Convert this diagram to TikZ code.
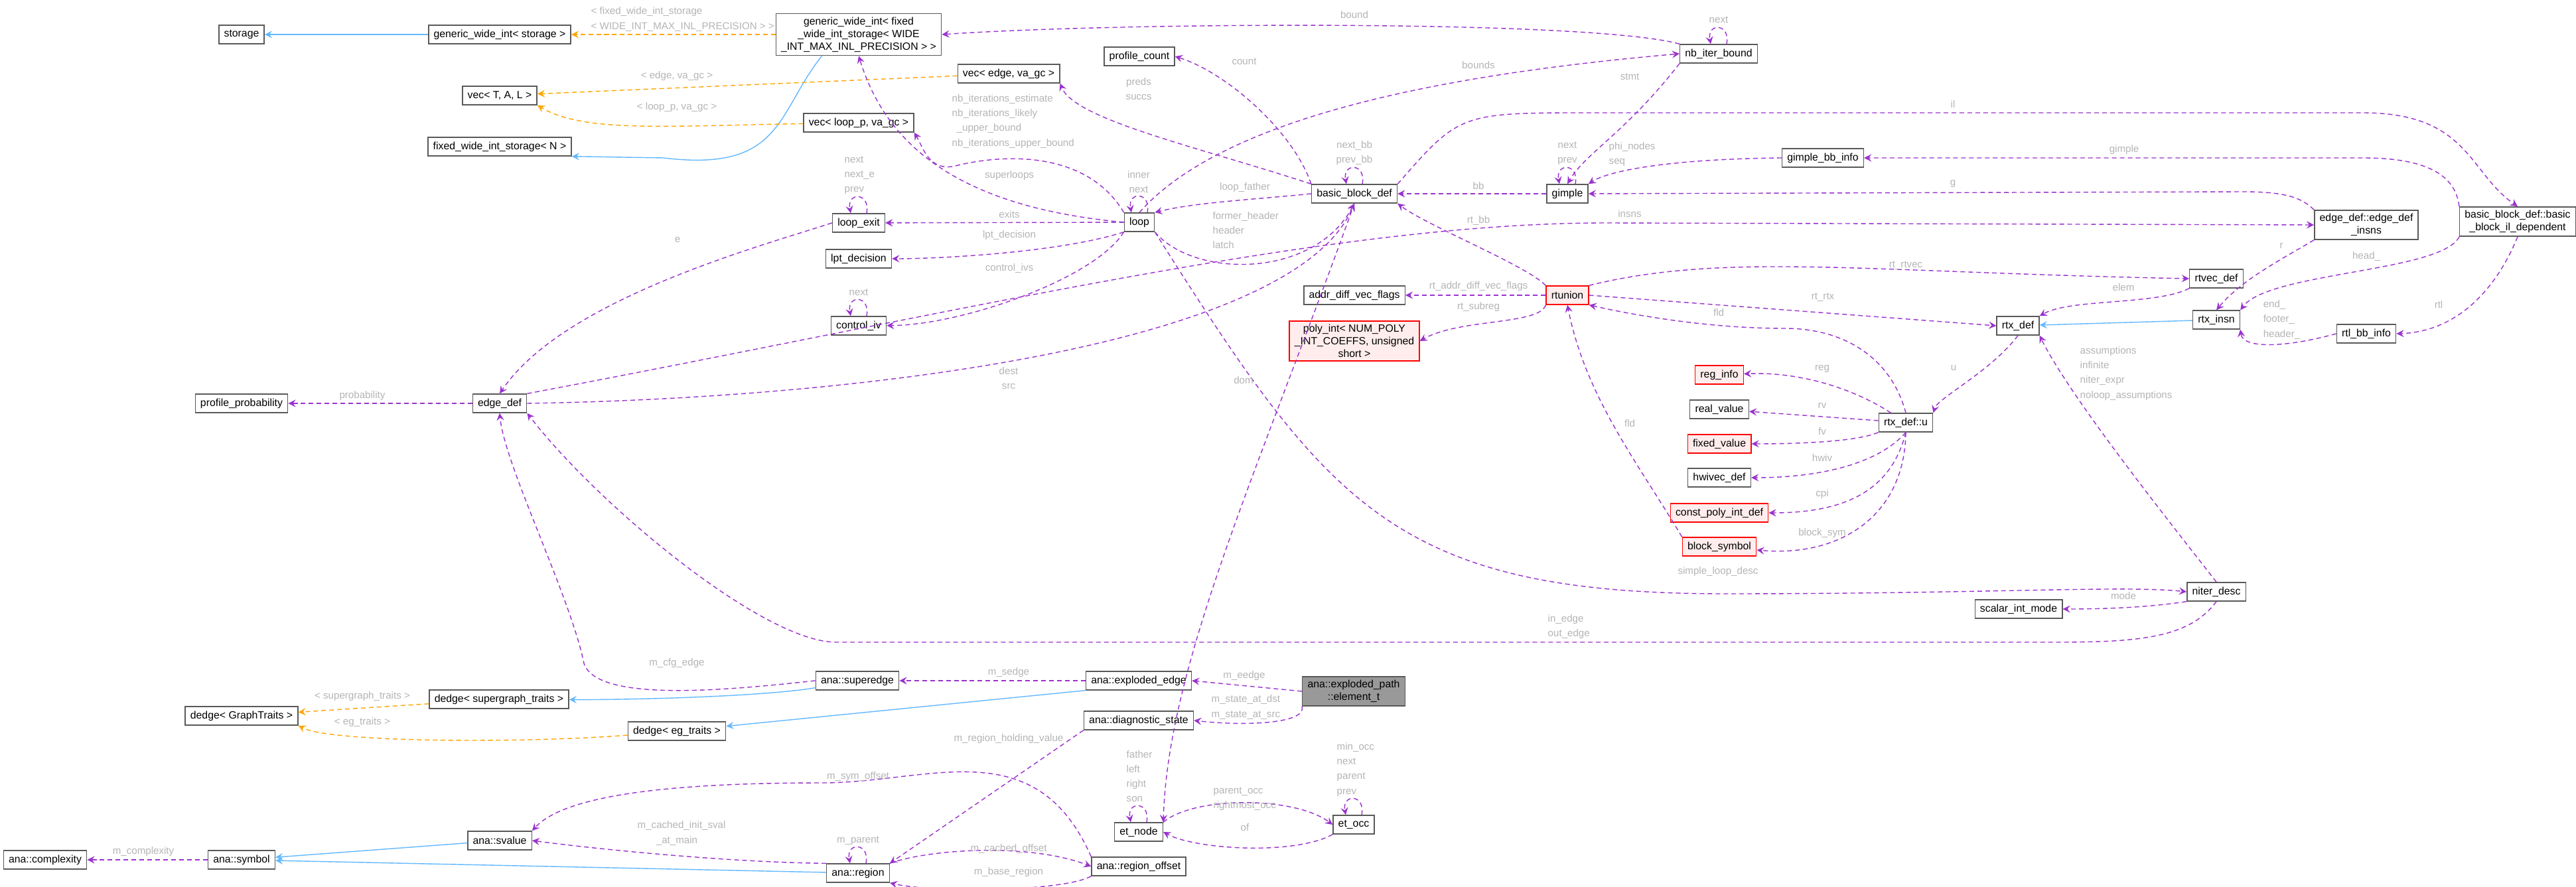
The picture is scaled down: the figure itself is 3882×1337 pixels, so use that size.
\documentclass[tikz,border=0pt]{standalone}
\usepackage{fontspec}
\setmainfont{Liberation Sans}
\usetikzlibrary{arrows}
\definecolor{memcol}{HTML}{9A32CD}
\definecolor{inhcol}{HTML}{63B8FF}
\definecolor{tplcol}{HTML}{FFA500}
\definecolor{lblcol}{HTML}{B4B4B4}
\newcommand{\nodefont}{\fontsize{4.5}{5.4}\selectfont}
\newcommand{\lblfont}{\fontsize{4.3}{6.3}\selectfont}
\tikzstyle{cls} = [draw=gray!70!black, fill=white, font=\nodefont, inner xsep=2.2pt, inner ysep=1.5pt, minimum height=0.28cm, align=center]
\tikzstyle{hot} = [cls, draw=red, fill=red!7]
\tikzstyle{mem} = [->, >=stealth, draw=memcol, dash pattern=on 2pt off 1.4pt, line width=0.4pt]
\tikzstyle{inh} = [->, >=stealth, draw=inhcol, line width=0.4pt]
\tikzstyle{tpl} = [->, >=stealth, draw=tplcol, dash pattern=on 2pt off 1.4pt, line width=0.4pt]
\tikzstyle{lbl} = [font=\lblfont, text=lblcol, align=center, inner sep=0pt]
\tikzstyle{lbll} = [lbl, align=left, anchor=west]
\newcommand{\selfloop}[1]{\draw[mem] (#1.north) ++(12,0) .. controls +(6,-32) and +(-6,-32) .. ++(-24,0);}

\begin{document}
\begin{tikzpicture}[x=0.01cm, y=-0.01cm]

  \useasboundingbox (0,0) rectangle (3882,1337);

  % templates
  \node[cls] (storage) at (364,52) {storage};
  \node[cls] (gwis) at (753,52) {generic\_wide\_int< storage >};
  \node[cls] (gwif) at (1294,52) {generic\_wide\_int< fixed\\\_wide\_int\_storage< WIDE\\\_INT\_MAX\_INL\_PRECISION > >};
  \node[cls] (vectal) at (753,144) {vec< T, A, L >};
  \node[cls] (fwis) at (753,221) {fixed\_wide\_int\_storage< N >};
  \node[cls] (vecedge) at (1520,111) {vec< edge, va\_gc >};
  \node[cls] (veclp) at (1294,185) {vec< loop\_p, va\_gc >};
  \node[cls] (pcount) at (1717,85) {profile\_count};
  \node[cls] (nbib) at (2590,81) {nb\_iter\_bound};

  % loops and blocks
  \node[cls] (loopexit) at (1294,336) {loop\_exit};
  \node[cls] (lptdec) at (1294,390) {lpt\_decision};
  \node[cls] (ctrliv) at (1294,491) {control\_iv};
  \node[cls] (loop) at (1717,335) {loop};
  \node[cls] (bbd) at (2041,292) {basic\_block\_def};
  \node[cls] (gimple) at (2362,292) {gimple};
  \node[cls] (gbbinfo) at (2747,238) {gimple\_bb\_info};
  \node[cls] (edgeins) at (3566,339) {edge\_def::edge\_def\\\_insns};
  \node[cls] (ildep) at (3794,334) {basic\_block\_def::basic\\\_block\_il\_dependent};
  \node[cls] (pprob) at (364,608) {profile\_probability};
  \node[cls] (edgedef) at (753,608) {edge\_def};

  % rtl
  \node[cls] (addrdiff) at (2041,445) {addr\_diff\_vec\_flags};
  \node[hot] (rtunion) at (2362,445) {rtunion};
  \node[hot] (polyint) at (2041,514) {poly\_int< NUM\_POLY\\\_INT\_COEFFS, unsigned\\short >};
  \node[cls] (rtvec) at (3340,420) {rtvec\_def};
  \node[cls] (rtxdef) at (3041,491) {rtx\_def};
  \node[cls] (rtxinsn) at (3340,482) {rtx\_insn};
  \node[cls] (rtlbb) at (3566,503) {rtl\_bb\_info};
  \node[cls] (rtxu) at (2872,637) {rtx\_def::u};
  \node[hot] (reginfo) at (2591,565) {reg\_info};
  \node[cls] (realval) at (2591,617) {real\_value};
  \node[hot] (fixval) at (2591,669) {fixed\_value};
  \node[cls] (hwivec) at (2591,720) {hwivec\_def};
  \node[hot] (cpoly) at (2591,773) {const\_poly\_int\_def};
  \node[hot] (blksym) at (2591,824) {block\_symbol};
  \node[cls] (niter) at (3340,892) {niter\_desc};
  \node[cls] (scalmode) at (3042,918) {scalar\_int\_mode};

  % analyzer
  \node[cls, fill=gray!80] (elem) at (2040,1042) {ana::exploded\_path\\::element\_t};
  \node[cls] (eedge) at (1716,1026) {ana::exploded\_edge};
  \node[cls] (sedge) at (1292,1026) {ana::superedge};
  \node[cls] (dsg) at (752,1054) {dedge< supergraph\_traits >};
  \node[cls] (dgt) at (364,1079) {dedge< GraphTraits >};
  \node[cls] (deg) at (1020,1102) {dedge< eg\_traits >};
  \node[cls] (dstate) at (1716,1086) {ana::diagnostic\_state};
  \node[cls] (etnode) at (1716,1254) {et\_node};
  \node[cls] (etocc) at (2040,1243) {et\_occ};
  \node[cls] (svalue) at (753,1267) {ana::svalue};
  \node[cls] (cplx) at (68,1296) {ana::complexity};
  \node[cls] (symbol) at (364,1296) {ana::symbol};
  \node[cls] (region) at (1293,1316) {ana::region};
  \node[cls] (roffs) at (1716,1306) {ana::region\_offset};

  % inheritance and templates
  \draw[inh] (gwis) -- (storage);
  \draw[tpl] (gwif) -- (gwis);
  \draw[inh] (gwif.south west) ++(70,0) .. controls (1170,170) and (1180,260) .. (1000,238) -- (fwis.south east);
  \draw[tpl] (vecedge) -- (vectal);
  \draw[tpl] (veclp) .. controls (1000,190) and (880,200) .. (vectal.south east);
  \draw[inh] (rtxinsn) -- (rtxdef);
  \draw[inh] (sedge) .. controls (1150,1050) and (950,1055) .. (dsg);
  \draw[inh] (eedge.south west) -- (deg);
  \draw[tpl] (dsg) -- (dgt);
  \draw[tpl] (deg) .. controls (800,1120) and (500,1120) .. (dgt.south east);
  \draw[inh] (svalue) -- (symbol);
  \draw[inh] (region) -- (symbol);
  \node[lbll] (lgwif) at (890,29) {< fixed\_wide\_int\_storage\\< WIDE\_INT\_MAX\_INL\_PRECISION > >};
  \node[lbl] (lvece) at (1020,115) {< edge, va\_gc >};
  \node[lbl] (lveclp) at (1020,162) {< loop\_p, va\_gc >};
  \node[lbl] (ldsg) at (546,1050) {< supergraph\_traits >};
  \node[lbl] (ldeg) at (546,1089) {< eg\_traits >};

  % members
  \draw[mem] (nbib.north west) .. controls (2400,30) and (1700,33) .. (gwif.east);
  \selfloop{nbib}
  \draw[mem] (loop.north) .. controls (1850,170) and (2200,110) .. (nbib.west);
  \draw[mem] (nbib.south west) .. controls (2450,200) and (2390,230) .. (gimple.north);
  \draw[mem] (bbd.north west) .. controls (1950,200) and (1850,110) .. (pcount.east);
  \draw[mem] (bbd.north west) .. controls (1800,220) and (1620,180) .. (vecedge.south east);
  \draw[mem] (loop.west) .. controls (1420,310) and (1330,200) .. (gwif.south);
  \draw[mem] (loop.north west) .. controls (1640,230) and (1520,230) .. (1440,250) .. controls (1400,260) and (1390,220) .. (veclp.south east);
  \selfloop{loop}
  \draw[mem] (loop) -- (loopexit);
  \selfloop{loopexit}
  \draw[mem] (loop.south west) .. controls (1600,380) and (1420,390) .. (lptdec);
  \draw[mem] (loop.south west) .. controls (1650,420) and (1450,490) .. (ctrliv);
  \selfloop{ctrliv}
  \draw[mem] (bbd.west) .. controls (1900,300) and (1800,305) .. (loop.north east);
  \draw[mem] (loop.south east) .. controls (1800,420) and (1980,420) .. (bbd.south);
  \selfloop{bbd}
  \draw[mem] (gimple) -- (bbd);
  \selfloop{gimple}
  \draw[mem] (gbbinfo.west) .. controls (2500,240) and (2420,260) .. (gimple.north east);
  \draw[mem] (ildep.north west) .. controls (3700,260) and (3650,238) .. (3560,238) -- (gbbinfo.east);
  \draw[mem] (bbd.north east) .. controls (2200,170) and (2200,170) .. (2400,170) -- (3560,170) .. controls (3720,170) and (3720,260) .. (ildep.north);
  \draw[mem] (edgeins.north west) .. controls (3470,300) and (3450,289) .. (3380,289) -- (gimple.east);
  \draw[mem] (edgedef.north east) .. controls (1450,470) and (2000,336) .. (2420,336) -- (edgeins.west);
  \draw[mem] (rtunion.north west) .. controls (2300,400) and (2150,340) .. (bbd.south east);
  \draw[mem] (rtunion) -- (addrdiff);
  \draw[mem] (rtunion.south west) .. controls (2320,490) and (2200,480) .. (polyint.east);
  \draw[mem] (rtunion.north east) .. controls (2600,380) and (2800,410) .. (rtvec.west);
  \draw[mem] (rtunion.east) -- (rtxdef.west);
  \draw[mem] (rtvec.south west) .. controls (3250,460) and (3120,450) .. (rtxdef.north east);
  \draw[mem] (edgeins.south west) .. controls (3440,390) and (3380,420) .. (rtxinsn.north);
  \draw[mem] (ildep.south west) .. controls (3680,410) and (3420,410) .. (rtxinsn.north east);
  \draw[mem] (rtlbb.west) .. controls (3440,525) and (3380,525) .. (rtxinsn.south east);
  \draw[mem] (ildep.south) .. controls (3760,440) and (3700,500) .. (rtlbb.east);
  \draw[mem] (rtxdef.south) .. controls (3000,560) and (2920,600) .. (rtxu.north east);
  \draw[mem] (rtxu.north) .. controls (2850,540) and (2780,495) .. (2690,495) .. controls (2560,495) and (2440,470) .. (rtunion.south east);
  \draw[mem] (blksym.north west) .. controls (2470,700) and (2390,600) .. (rtunion.south);
  \draw[mem] (rtxu) .. controls (2800,590) and (2720,560) .. (reginfo);
  \draw[mem] (rtxu) -- (realval);
  \draw[mem] (rtxu.south west) .. controls (2800,665) and (2720,669) .. (fixval);
  \draw[mem] (rtxu.south) .. controls (2830,700) and (2740,720) .. (hwivec);
  \draw[mem] (rtxu.south) .. controls (2850,740) and (2780,773) .. (cpoly);
  \draw[mem] (rtxu.south) .. controls (2870,780) and (2770,840) .. (blksym);
  \draw[mem] (niter.north) .. controls (3280,800) and (3120,600) .. (rtxdef.south east);
  \draw[mem] (loop.south east) .. controls (2000,760) and (2100,895) .. (2600,895) .. controls (3000,895) and (3200,882) .. (niter.west);
  \draw[mem] (niter.south west) .. controls (3240,915) and (3180,918) .. (scalmode.east);
  \draw[mem] (niter.south) .. controls (3300,960) and (3230,968) .. (3100,968) -- (1260,968) .. controls (1150,968) and (900,760) .. (edgedef.south east);
  \draw[mem] (edgedef) -- (pprob);
  \draw[mem] (edgedef.east) .. controls (1300,600) and (1950,520) .. (bbd.south);
  \draw[mem] (loopexit.west) .. controls (1150,370) and (850,450) .. (edgedef.north);
  \draw[mem] (bbd.south) .. controls (1900,700) and (1760,1000) .. (etnode.north east);

  \node[lbl] (lbound) at (2041,22) {bound};
  \node[lbl] (lnbnext) at (2590,30) {next};
  \node[lbl] (lbounds) at (2228,98) {bounds};
  \node[lbl] (lstmt) at (2456,116) {stmt};
  \node[lbl] (lcount) at (1875,93) {count};
  \node[lbl] (lpreds) at (1716,134) {preds\\succs};
  \node[lbll] (lnbit) at (1434,183) {nb\_iterations\_estimate\\nb\_iterations\_likely\\\hspace{2pt}\_upper\_bound\\nb\_iterations\_upper\_bound};
  \node[lbl] (lsuper) at (1521,265) {superloops};
  \node[lbl] (linner) at (1716,274) {inner\\next};
  \node[lbl] (lexits) at (1521,323) {exits};
  \node[lbl] (llpt) at (1521,355) {lpt\_decision};
  \node[lbl] (lctrl) at (1521,405) {control\_ivs};
  \node[lbl] (lcinext) at (1294,441) {next};
  \node[lbll] (lexnext) at (1272,264) {next\\next\_e\\prev};
  \node[lbl] (lfather) at (1876,283) {loop\_father};
  \node[lbll] (lheader) at (1827,347) {former\_header\\header\\latch};
  \node[lbl] (lnextbb) at (2041,231) {next\_bb\\prev\_bb};
  \node[lbl] (lbb) at (2228,280) {bb};
  \node[lbl] (lgnext) at (2362,231) {next\\prev};
  \node[lbll] (lphi) at (2424,233) {phi\_nodes\\seq};
  \node[lbl] (lgimple) at (3201,226) {gimple};
  \node[lbl] (lil) at (2943,157) {il};
  \node[lbl] (lg) at (2943,277) {g};
  \node[lbl] (linsns) at (2456,322) {insns};
  \node[lbl] (lrtbb) at (2228,333) {rt\_bb};
  \node[lbl] (laddr) at (2228,432) {rt\_addr\_diff\_vec\_flags};
  \node[lbl] (lsubreg) at (2228,463) {rt\_subreg};
  \node[lbl] (lrtvec) at (2872,400) {rt\_rtvec};
  \node[lbl] (lrtx) at (2747,448) {rt\_rtx};
  \node[lbl] (lelem) at (3200,433) {elem};
  \node[lbl] (lr) at (3438,370) {r};
  \node[lbl] (lhead) at (3566,387) {head\_};
  \node[lbll] (lend) at (3410,482) {end\_\\footer\_\\header\_};
  \node[lbl] (lrtl) at (3675,459) {rtl};
  \node[lbl] (lu) at (2944,555) {u};
  \node[lbl] (lfld) at (2590,471) {fld};
  \node[lbl] (lfld2) at (2456,638) {fld};
  \node[lbl] (lreg) at (2746,556) {reg};
  \node[lbl] (lrv) at (2746,611) {rv};
  \node[lbl] (lfv) at (2746,650) {fv};
  \node[lbl] (lhwiv) at (2746,690) {hwiv};
  \node[lbl] (lcpi) at (2746,745) {cpi};
  \node[lbl] (lbsym) at (2746,804) {block\_sym};
  \node[lbll] (lassum) at (3134,563) {assumptions\\infinite\\niter\_expr\\noloop\_assumptions};
  \node[lbl] (ldom) at (1874,573) {dom};
  \node[lbl] (lsimple) at (2589,862) {simple\_loop\_desc};
  \node[lbl] (lmode) at (3200,898) {mode};
  \node[lbll] (linedge) at (2332,945) {in\_edge\\out\_edge};
  \node[lbl] (lprob) at (546,597) {probability};
  \node[lbl] (ldest) at (1520,570) {dest\\src};
  \node[lbl] (le) at (1021,362) {e};

  % analyzer members
  \draw[mem] (sedge.west) .. controls (1100,1040) and (900,1060) .. (880,1000) .. controls (860,900) and (760,700) .. (edgedef.south);
  \draw[mem] (eedge) -- (sedge);
  \draw[mem] (elem.west) -- (eedge.east);
  \draw[mem] (elem.south west) .. controls (1970,1090) and (1880,1095) .. (dstate.east);
  \draw[mem] (dstate.south west) -- (region.north east);
  \selfloop{etnode}
  \draw[mem] (etnode.north east) .. controls (1800,1200) and (1950,1200) .. (etocc.west);
  \draw[mem] (etocc.south west) .. controls (1950,1290) and (1800,1280) .. (etnode.east);
  \selfloop{etocc}
  \draw[mem] (roffs.north west) .. controls (1560,1100) and (1400,1180) .. (1240,1180) .. controls (1000,1180) and (850,1200) .. (svalue.north east);
  \draw[mem] (region.north west) .. controls (1100,1300) and (900,1280) .. (svalue.east);
  \selfloop{region}
  \draw[mem] (region.north east) .. controls (1400,1280) and (1550,1270) .. (roffs.west);
  \draw[mem] (roffs.south west) .. controls (1600,1345) and (1400,1345) .. (region.south east);
  \draw[mem] (symbol) -- (cplx);

  \node[lbl] (lcfg) at (1020,1000) {m\_cfg\_edge};
  \node[lbl] (lsedge) at (1520,1014) {m\_sedge};
  \node[lbl] (leedge) at (1875,1019) {m\_eedge};
  \node[lbll] (lstate) at (1825,1066) {m\_state\_at\_dst\\m\_state\_at\_src};
  \node[lbl] (lholding) at (1520,1114) {m\_region\_holding\_value};
  \node[lbll] (lfathr) at (1697,1170) {father\\left\\right\\son};
  \node[lbll] (lpocc) at (1828,1204) {parent\_occ\\rightmost\_occ};
  \node[lbl] (lof) at (1876,1247) {of};
  \node[lbll] (lminocc) at (2014,1160) {min\_occ\\next\\parent\\prev};
  \node[lbl] (lsym) at (1293,1171) {m\_sym\_offset};
  \node[lbll] (linit) at (960,1256) {m\_cached\_init\_sval\\\hspace{8pt}\_at\_main};
  \node[lbl] (lparent) at (1293,1267) {m\_parent};
  \node[lbl] (lcoffs) at (1520,1280) {m\_cached\_offset};
  \node[lbl] (lbase) at (1520,1315) {m\_base\_region};
  \node[lbl] (lcplx) at (216,1284) {m\_complexity};

\end{tikzpicture}
\end{document}
